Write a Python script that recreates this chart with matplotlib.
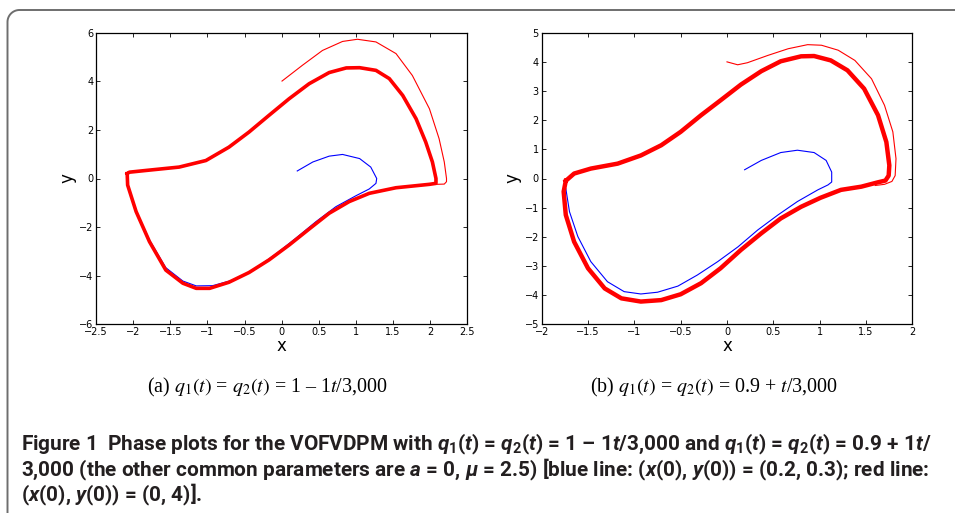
import numpy as np
import matplotlib.pyplot as plt

plt.rcParams['mathtext.fontset'] = 'custom'
plt.rcParams['mathtext.rm'] = 'Roboto:bold'
plt.rcParams['mathtext.it'] = 'Roboto:italic:bold'
plt.rcParams['mathtext.bf'] = 'Roboto:bold'

# ================= Data =================
# (a) q1 = q2 = 1 - t/3000 : settled limit cycle, red transient from (0,4), blue from (0.2,0.3)
a_cycle_x = [-2.08, -2.05, -1.83, -1.38, -1.02, -0.71, -0.44, -0.17, 0.10, 0.37, 0.64,
             0.87, 1.05, 1.27, 1.45, 1.63, 1.81, 1.94, 2.03, 2.078, 2.078, 1.99, 1.54,
             1.18, 0.91, 0.64, 0.37, 0.10, -0.17, -0.44, -0.71, -0.97, -1.15, -1.33,
             -1.56, -1.78, -1.96, -2.074, -2.08]
a_cycle_y = [0.20, 0.26, 0.33, 0.47, 0.74, 1.29, 1.91, 2.60, 3.28, 3.90, 4.36,
             4.55, 4.56, 4.45, 4.11, 3.42, 2.46, 1.50, 0.68, 0.00, -0.20, -0.24, -0.38,
             -0.61, -0.95, -1.43, -2.08, -2.74, -3.35, -3.87, -4.27, -4.52, -4.52, -4.31,
             -3.77, -2.60, -1.36, -0.27, 0.20]
a_red_x = [0.005, 0.28, 0.55, 0.82, 1.02, 1.27, 1.54, 1.76, 1.99, 2.12, 2.19, 2.22,
           2.22, 2.19, 2.08]
a_red_y = [4.01, 4.66, 5.27, 5.64, 5.73, 5.62, 5.14, 4.24, 2.87, 1.64, 0.68, 0.00,
           -0.13, -0.23, -0.24]
a_blue_x = [0.21, 0.42, 0.64, 0.82, 1.05, 1.20, 1.28, 1.27, 1.18, 1.00, 0.73, 0.46,
            0.19, -0.08, -0.35, -0.62, -0.93, -1.15, -1.33, -1.56, -1.78, -1.98, -2.08,
            -2.08]
a_blue_y = [0.31, 0.68, 0.92, 0.99, 0.82, 0.47, 0.00, -0.20, -0.43, -0.71, -1.16, -1.78,
            -2.46, -3.11, -3.70, -4.15, -4.41, -4.42, -4.22, -3.67, -2.53, -1.23, -0.13,
            0.15]

# (b) q1 = q2 = 0.9 + t/3000
b_cycle_x = [-1.74, -1.65, -1.47, -1.18, -0.93, -0.71, -0.50, -0.28, -0.07, 0.15, 0.37,
             0.58, 0.80, 0.94, 1.12, 1.30, 1.48, 1.63, 1.72, 1.752, 1.745, 1.71, 1.63,
             1.45, 1.23, 1.01, 0.80, 0.58, 0.37, 0.15, -0.07, -0.28, -0.50, -0.71,
             -0.93, -1.14, -1.32, -1.50, -1.65, -1.74, -1.763, -1.74]
b_cycle_y = [-0.08, 0.17, 0.34, 0.51, 0.79, 1.14, 1.60, 2.17, 2.68, 3.22, 3.68,
             4.02, 4.19, 4.20, 4.05, 3.71, 3.08, 2.17, 1.25, 0.45, 0.10, -0.07, -0.13,
             -0.28, -0.39, -0.66, -0.97, -1.37, -1.88, -2.45, -3.08, -3.59, -3.97, -4.17,
             -4.22, -4.11, -3.77, -3.08, -2.17, -1.25, -0.45, -0.08]
b_red_x = [0.00, 0.115, 0.22, 0.44, 0.66, 0.87, 1.02, 1.20, 1.38, 1.56, 1.70, 1.79,
           1.824, 1.815, 1.78, 1.70, 1.60]
b_red_y = [4.00, 3.90, 3.97, 4.22, 4.45, 4.59, 4.57, 4.40, 4.05, 3.42, 2.51, 1.60,
           0.68, 0.10, -0.10, -0.20, -0.24]
b_blue_x = [0.19, 0.37, 0.58, 0.76, 0.94, 1.07, 1.13, 1.13, 1.09, 0.98, 0.76, 0.55,
            0.33, 0.12, -0.10, -0.32, -0.53, -0.75, -0.93, -1.11, -1.29, -1.47, -1.61,
            -1.70, -1.74]
b_blue_y = [0.30, 0.62, 0.89, 0.97, 0.89, 0.62, 0.22, -0.12, -0.22, -0.39, -0.79, -1.25,
            -1.77, -2.34, -2.85, -3.31, -3.69, -3.90, -3.96, -3.88, -3.54, -2.85, -1.99,
            -1.14, -0.34]

# ================= Figure =================
W, H = 955, 513
fig = plt.figure(figsize=(W / 100, H / 100), dpi=100)

# rounded page frame, open to the right and bottom (pixel coordinates)
bg = fig.add_axes([0, 0, 1, 1])
bg.set_xlim(0, W)
bg.set_ylim(H, 0)
bg.axis('off')
r = 12
ang = np.linspace(np.pi, 1.5 * np.pi, 20)
fx = np.concatenate([[7.5, 7.5], 7.5 + r + r * np.cos(ang), [W + 5]])
fy = np.concatenate([[H + 5, 10 + r], 10 + r + r * np.sin(ang), [10]])
bg.plot(fx, fy, color='#6e6e6e', linewidth=1.4)

ax1 = fig.add_axes([96 / W, 1 - 324.3 / H, 371.3 / W, 291.6 / H])
ax2 = fig.add_axes([541.7 / W, 1 - 324.3 / H, 370.6 / W, 291.6 / H])

panels = [
    (ax1, a_cycle_x, a_cycle_y, a_red_x, a_red_y, a_blue_x, a_blue_y,
     (-2.5, 2.5), (-6, 6), np.arange(-2.5, 2.6, 0.5), np.arange(-6, 7, 2), 2.6),
    (ax2, b_cycle_x, b_cycle_y, b_red_x, b_red_y, b_blue_x, b_blue_y,
     (-2, 2), (-5, 5), np.arange(-2, 2.1, 0.5), np.arange(-5, 6, 1), 3.2),
]

fmt = plt.FuncFormatter(lambda v, p: f'{v:g}'.replace('-', '\u2212'))
for ax, cx, cy, rx, ry, bx, by, xl, yl, xt, yt, lw in panels:
    ax.plot(bx, by, color='#0000ff', linewidth=0.8)
    ax.plot(rx, ry, color='#ff0000', linewidth=0.8)
    ax.plot(cx, cy, color='#ff0000', linewidth=lw, solid_joinstyle='round')
    ax.set_xlim(*xl)
    ax.set_ylim(*yl)
    ax.set_xticks(xt)
    ax.set_yticks(yt)
    ax.xaxis.set_major_formatter(fmt)
    ax.yaxis.set_major_formatter(fmt)
    ax.tick_params(direction='in', top=True, right=True, length=3, width=0.6,
                   labelsize=7, pad=2)
    for s in ax.spines.values():
        s.set_linewidth(0.9)
    ax.set_xlabel('x', fontsize=12, labelpad=0)
    ax.set_ylabel('y', fontsize=12, labelpad=2)

renderer = fig.canvas.get_renderer()


def fit_width(t, target):
    bb = t.get_window_extent(renderer)
    t.set_fontsize(t.get_fontsize() * target / bb.width)
    return t.get_fontsize()


# sub captions
sa = fig.text(267 / W, 1 - 387 / H, r'(a) $q_1(t)$ = $q_2(t)$ = 1 – 1$t$/3,000',
              ha='center', va='center', fontsize=13, family='Liberation Serif',
              math_fontfamily='stix')
sb = fig.text(714 / W, 1 - 387 / H, r'(b) $q_1(t)$ = $q_2(t)$ = 0.9 + $t$/3,000',
              ha='center', va='center', fontsize=13, family='Liberation Serif',
              math_fontfamily='stix')
fs = fit_width(sa, 240)
sb.set_fontsize(fs)

# figure caption
cap_lines = [
    r'Figure 1  Phase plots for the VOFVDPM with $q_1(t)$ = $q_2(t)$ = 1 – 1$t$/3,000 and $q_1(t)$ = $q_2(t)$ = 0.9 + 1$t$/',
    r'3,000 (the other common parameters are $a$ = 0, $\mu$ = 2.5) [blue line: ($x$(0), $y$(0)) = (0.2, 0.3); red line:',
    r'($x$(0), $y$(0)) = (0, 4)].',
]
caps = []
for i, line in enumerate(cap_lines):
    caps.append(fig.text(21 / W, 1 - (444 + 25.5 * i) / H, line, ha='left', va='center',
                         fontsize=13, fontweight='bold', family='Roboto',
                         color='#231f20', math_fontfamily='custom'))
cfs = fit_width(caps[0], 909)
for c in caps[1:]:
    c.set_fontsize(cfs)

fig.savefig('out.png', dpi=100)
